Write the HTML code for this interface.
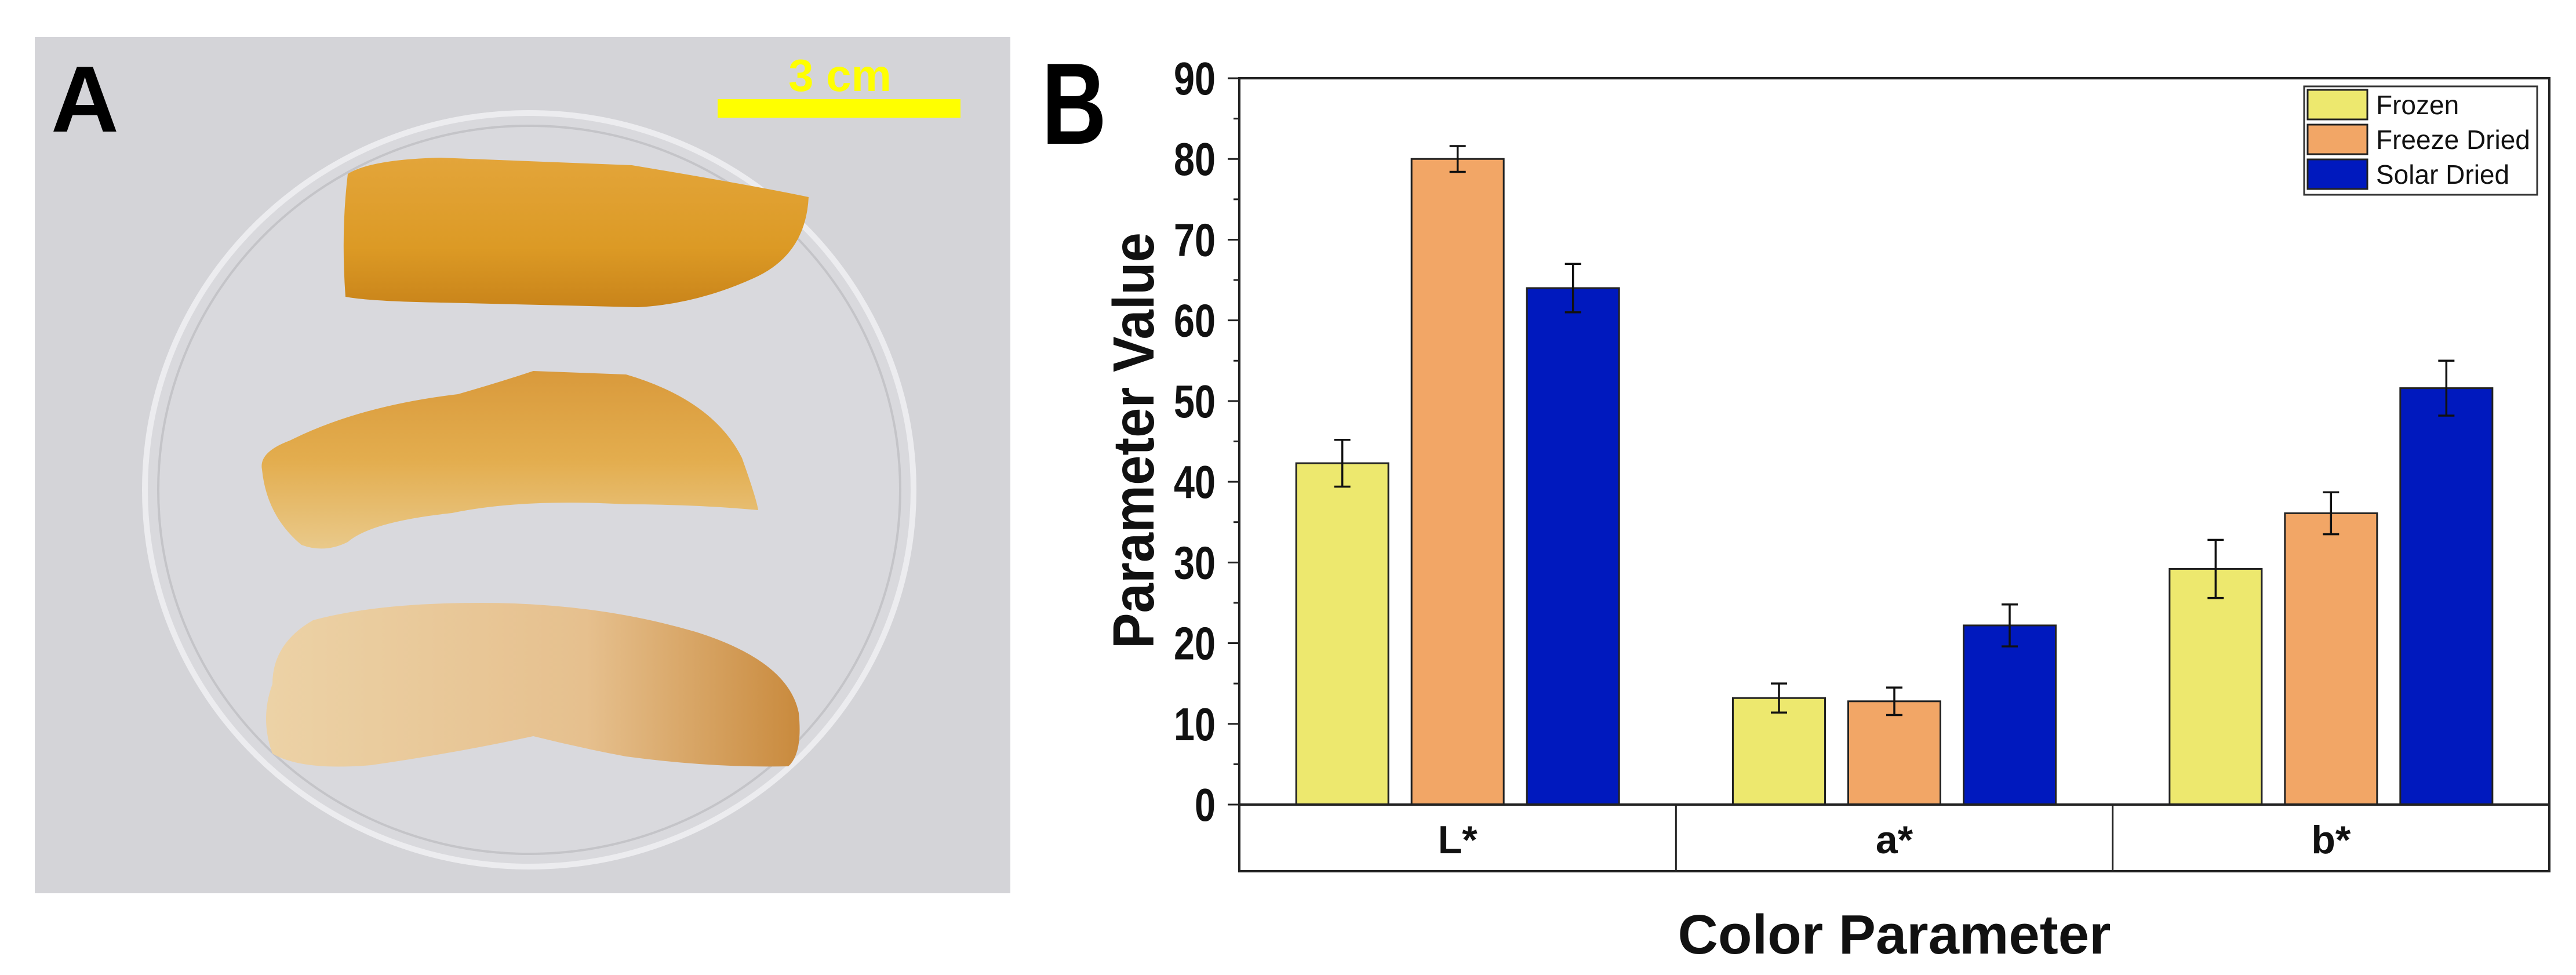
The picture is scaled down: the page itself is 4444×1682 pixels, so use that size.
<!DOCTYPE html>
<html><head><meta charset="utf-8">
<style>
html,body{margin:0;padding:0;background:#fff;}
body{width:4444px;height:1677px;overflow:hidden;position:relative;font-family:"Liberation Sans",sans-serif;}
</style></head>
<body>
<svg id="fig" width="4444" height="1677" viewBox="0 0 4444 1677" xmlns="http://www.w3.org/2000/svg">
  <defs>
    <linearGradient id="g1" x1="0" y1="0" x2="0" y2="1">
      <stop offset="0" stop-color="#e3a53a"/><stop offset="0.6" stop-color="#dc9a25"/><stop offset="1" stop-color="#c9841a"/>
    </linearGradient>
    <linearGradient id="g2" x1="0" y1="0" x2="0" y2="1">
      <stop offset="0" stop-color="#d99a3c"/><stop offset="0.5" stop-color="#e3ad4e"/><stop offset="1" stop-color="#e9c98a"/>
    </linearGradient>
    <linearGradient id="g3" x1="0" y1="0" x2="1" y2="0">
      <stop offset="0" stop-color="#ecd2a6"/><stop offset="0.6" stop-color="#e6c08e"/><stop offset="1" stop-color="#c98a3d"/>
    </linearGradient>
  </defs>
  <g>
    <rect x="60" y="64" width="1683" height="1477" fill="#d4d4d8"/>
    <ellipse cx="913" cy="845" rx="663" ry="650" fill="#d9d9dd" stroke="#ececef" stroke-width="10"/>
    <ellipse cx="913" cy="845" rx="640" ry="628" fill="none" stroke="#c4c4c8" stroke-width="4"/>
    <path d="M600,300 Q640,275 760,272 L1090,285 Q1300,320 1395,340 Q1390,440 1300,480 Q1200,525 1100,530 L760,522 Q640,520 596,512 Q588,400 600,300 Z" fill="url(#g1)"/>
    <path d="M452,810 Q446,780 500,760 Q620,700 790,680 Q860,660 920,640 L1080,646 Q1230,690 1280,790 Q1305,860 1308,880 Q1200,870 1080,870 Q900,860 780,885 Q640,900 600,935 Q560,955 520,940 Q460,890 452,810 Z" fill="url(#g2)"/>
    <path d="M470,1180 Q470,1110 540,1070 Q650,1040 830,1040 Q1030,1040 1200,1090 Q1360,1140 1378,1230 Q1385,1300 1360,1322 Q1230,1325 1080,1305 Q1000,1290 920,1270 Q780,1300 640,1320 Q520,1330 470,1300 Q448,1240 470,1180 Z" fill="url(#g3)"/>
    <text x="88" y="227" font-size="162" font-weight="bold" fill="#000">A</text>
    <rect x="1238" y="171" width="419" height="32" fill="#ffff00"/>
    <text x="1449" y="157" font-size="78" font-weight="bold" fill="#ffff00" text-anchor="middle">3 cm</text>
  </g>
  <g id="chart"></g>
</svg>
<script>
const categories = ["L*", "a*", "b*"];
const seriesNames = ["Frozen", "Freeze Dried", "Solar Dried"];
const frozenValues = [42.3, 13.2, 29.2];
const freezeDriedValues = [80.0, 12.8, 36.1];
const solarDriedValues = [64.0, 22.2, 51.6];
const frozenErrors = [2.9, 1.8, 3.6];
const freezeDriedErrors = [1.6, 1.7, 2.6];
const solarDriedErrors = [3.0, 2.6, 3.4];
const yTicks = [0, 10, 20, 30, 40, 50, 60, 70, 80, 90];

const NS = "http://www.w3.org/2000/svg";
const g = document.getElementById("chart");
const L = 2138, R = 4398, T = 135, B0 = 1388, BOX = 1503;
const yMin = 0, yMax = 90;
function yScale(v){ return B0 - (v - yMin) / (yMax - yMin) * (B0 - T); }
const groupW = (R - L) / categories.length;
function groupCenter(i){ return L + groupW * (i + 0.5); }
const barW = 159, barGap = 40;
function barX(ci, si){ return groupCenter(ci) + (si - 1) * (barW + barGap) - barW / 2; }
function mk(tag, attrs){ const e = document.createElementNS(NS, tag); for (const k in attrs) e.setAttribute(k, attrs[k]); g.appendChild(e); return e; }

const colors = ["#ede86e", "#f2a666", "#0019be"];
const vals = [frozenValues, freezeDriedValues, solarDriedValues];
const errs = [frozenErrors, freezeDriedErrors, solarDriedErrors];

for (let s = 0; s < 3; s++) {
  for (let c = 0; c < categories.length; c++) {
    const x = barX(c, s), y = yScale(vals[s][c]);
    const r = mk("rect", {x: x, y: y, width: barW, height: B0 - y, fill: colors[s], stroke: "#222", "stroke-width": 3});
    
    
    const cx = x + barW / 2, yt = yScale(vals[s][c] + errs[s][c]), yb = yScale(vals[s][c] - errs[s][c]);
    const eb = mk("path", {d: `M${cx},${yt}V${yb}M${cx-14},${yt}H${cx+14}M${cx-14},${yb}H${cx+14}`, stroke: "#111", "stroke-width": 3.5, fill: "none"});
    
    
  }
}
const fr = mk("path", {d: `M${L},${T}H${R}V${BOX}H${L}Z M${L},${B0}H${R}`, stroke: "#222", "stroke-width": 4, fill: "none"});


for (let c = 0; c < categories.length; c++) {
  if (c > 0) {
    const sp = mk("line", {x1: L + groupW * c, x2: L + groupW * c, y1: B0, y2: BOX, stroke: "#222", "stroke-width": 3});
    
    
  }
  const t = mk("text", {x: groupCenter(c), y: 1472, "font-size": 68, "font-weight": "bold", "text-anchor": "middle", fill: "#111"});
  t.textContent = categories[c];
  
  
}
for (let i = 0; i < yTicks.length; i++) {
  const y = yScale(yTicks[i]);
  const tk = mk("line", {x1: L - 20, x2: L, y1: y, y2: y, stroke: "#222", "stroke-width": 3});
  
  
  if (i < yTicks.length - 1) {
    const ym = yScale((yTicks[i] + yTicks[i+1]) / 2);
    const mt = mk("line", {x1: L - 10, x2: L, y1: ym, y2: ym, stroke: "#222", "stroke-width": 3});
    
    
  }
  const lbl = String(yTicks[i]);
  const tl = mk("text", {x: 2097, y: y + 28, "font-size": 80, "font-weight": "bold", "text-anchor": "end", fill: "#111", textLength: 36 * lbl.length, lengthAdjust: "spacingAndGlyphs"});
  tl.textContent = lbl;
  
  
}
const yt = mk("text", {x: 0, y: 0, transform: "translate(1990,760) rotate(-90)", "font-size": 100, "font-weight": "bold", "text-anchor": "middle", fill: "#111", textLength: 718, lengthAdjust: "spacingAndGlyphs"});
yt.textContent = "Parameter Value";


const xt = mk("text", {x: (L + R) / 2, y: 1645, "font-size": 96, "font-weight": "bold", "text-anchor": "middle", fill: "#111"});
xt.textContent = "Color Parameter";


const bl = mk("text", {x: 1797, y: 248, "font-size": 200, "font-weight": "bold", fill: "#000", textLength: 112, lengthAdjust: "spacingAndGlyphs"});
bl.textContent = "B";


const lg = mk("rect", {x: 3975, y: 149, width: 402, height: 187, fill: "#fff", stroke: "#333", "stroke-width": 3});


for (let s = 0; s < 3; s++) {
  const y = 155 + s * 60;
  const sw = mk("rect", {x: 3981, y: y, width: 103, height: 51, fill: colors[s], stroke: "#222", "stroke-width": 3});
  
  
  const lt = mk("text", {x: 4099, y: y + 42, "font-size": 46, fill: "#111"});
  lt.textContent = seriesNames[s];
  
  
}
</script>
</body></html>
